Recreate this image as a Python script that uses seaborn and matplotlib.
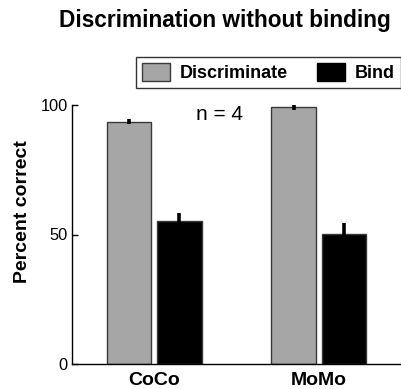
import matplotlib
matplotlib.use("Agg")
import matplotlib.pyplot as plt
import seaborn as sns
import pandas as pd
from matplotlib.patches import Patch

sns.set_theme(style="white")
plt.rcParams['font.family'] = ['Liberation Sans', 'DejaVu Sans']
plt.rcParams.update({"text.color": "black", "axes.labelcolor": "black",
                     "xtick.color": "black", "ytick.color": "black"})

pairs = ["CoCo", "CoCo", "MoMo", "MoMo"]
tasks = ["Discriminate", "Bind", "Discriminate", "Bind"]
percent = [93.6, 55.2, 99.2, 50.2]
sem = [1.0, 3.0, 1.0, 4.3]
categories = ["CoCo", "MoMo"]
task_order = ["Discriminate", "Bind"]
yticks = [0, 50, 100]

df = pd.DataFrame({"pair": pairs, "task": tasks, "pct": percent, "sem": sem})

W, H = 401, 389
fig = plt.figure(figsize=(W / 100, H / 100), dpi=100)
ax = fig.add_axes([72 / W, (H - 364) / H, (W - 72) / W, (364 - 105) / H])

palette = {"Discriminate": "#a6a6a6", "Bind": "#000000"}
sns.barplot(data=df, x="pair", y="pct", hue="task", order=categories,
            hue_order=task_order, palette=palette, errorbar=None,
            width=0.61, gap=0.11, edgecolor="#3a3a3a", linewidth=1.0,
            saturation=1, ax=ax, legend=False)

# error bars positioned from the bars drawn by seaborn
ordered = df.set_index(["task", "pair"]).loc[
    [(t, c) for t in task_order for c in categories]].reset_index()
for p, (_, row) in zip(ax.patches, ordered.iterrows()):
    xc = p.get_x() + p.get_width() / 2
    ax.errorbar([xc], [row["pct"]], yerr=[row["sem"]], fmt="none",
                ecolor="black", elinewidth=2.6, capsize=0, zorder=5)

ax.set_xlim(-0.5, 1.5)
ax.set_ylim(0, 100)
ax.set_yticks(yticks)
ax.set_yticklabels([str(v) for v in yticks], fontsize=11.8)
ax.tick_params(axis="y", left=True, direction="in", length=4, width=1,
               color="black", pad=3)
ax.tick_params(axis="x", bottom=False, length=0, pad=6)
for lab in ax.get_xticklabels():
    lab.set_fontweight("bold")
    lab.set_fontsize(14)
ax.set_xlabel("")
ax.set_ylabel("Percent correct", fontsize=14, fontweight="bold")
ax.yaxis.set_label_coords(-0.125, 0.59)

for s in ["top", "right"]:
    ax.spines[s].set_visible(False)
for s in ["left", "bottom"]:
    ax.spines[s].set_color("black")
    ax.spines[s].set_linewidth(1.0)

ax.text(0.395, 96.5, "n = 4", fontsize=15, ha="center", va="center")

fig.text(225 / W, 1 - 21 / H, "Discrimination without binding",
         fontsize=16.3, fontweight="bold", ha="center", va="center")

handles = [Patch(facecolor="#a6a6a6", edgecolor="#3a3a3a", label="Discriminate"),
           Patch(facecolor="#000000", edgecolor="#000000", label="Bind")]
leg = fig.legend(handles=handles, loc="upper left",
                 bbox_to_anchor=(136 / W, 1 - 57 / H), ncol=2,
                 frameon=True, fancybox=False, framealpha=1,
                 edgecolor="#333333", handlelength=1.55, handleheight=1.1,
                 handletextpad=0.55, columnspacing=1.6, borderpad=0.35,
                 borderaxespad=0, prop={"weight": "bold", "size": 13})
leg.get_frame().set_linewidth(1.0)

fig.savefig("out.png", dpi=100)
